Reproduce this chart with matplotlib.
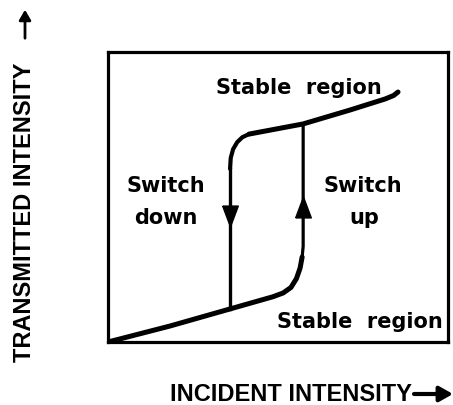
import matplotlib.pyplot as plt
from matplotlib.patches import FancyArrowPatch

# hysteresis loop, axes in 0..100 units
low_x = [0, 18.2, 35.9, 48.5, 51.5, 53.8, 55.4, 56.5, 57.1, 57.4, 57.4]
low_y = [0, 5.5, 11.4, 15.6, 16.9, 18.8, 21.8, 25.5, 29.3, 33.0, 75.2]
up_x = [35.9, 35.9, 36.1, 36.8, 38.0, 39.5, 41.5, 57.4, 71.2, 81.5, 84.0, 85.3]
up_y = [11.4, 59.7, 63.5, 66.5, 68.9, 70.6, 71.7, 75.2, 80.0, 83.8, 85.0, 86.2]
arrow_up = (57.4, 46.6)
arrow_down = (35.9, 43.4)

labels = [
    ('Stable  region', 56.0, 87.8),
    ('Switch', 17.0, 54.0),
    ('down', 17.0, 43.1),
    ('Switch', 75.0, 54.0),
    ('up', 75.4, 43.1),
    ('Stable  region', 74.0, 7.4),
]

fig = plt.figure(figsize=(4.53, 4.06), dpi=100)
ax = fig.add_axes([108 / 453, 63 / 406, 340 / 453, 290 / 406])
ax.set_xlim(0, 100)
ax.set_ylim(0, 100)
ax.set_xticks([])
ax.set_yticks([])
for s in ax.spines.values():
    s.set_linewidth(2.3)

# thick branches
ax.plot(low_x[:9], low_y[:9], color='black', lw=3.6, solid_capstyle='round', solid_joinstyle='round')
ax.plot(up_x[6:], up_y[6:], color='black', lw=3.6, solid_capstyle='round', solid_joinstyle='round')
ax.plot(up_x[1:7], up_y[1:7], color='black', lw=3.0, solid_capstyle='round', solid_joinstyle='round')
# switching lines
ax.plot(low_x[8:], low_y[8:], color='black', lw=2.3)
ax.plot(up_x[:2], up_y[:2], color='black', lw=2.4)

tri_down = [(-0.75, 1), (0.75, 1), (0, -1), (-0.75, 1)]
tri_up = [(-0.75, -1), (0.75, -1), (0, 1), (-0.75, -1)]
ax.plot(*arrow_down, marker=tri_down, ms=15, color='black')
ax.plot(*arrow_up, marker=tri_up, ms=15, color='black')

for t, x, y in labels:
    ax.text(x, y, t, ha='center', va='center', fontsize=15,
            fontweight='bold', family='DejaVu Sans')

fig.text(0.055, 1 - 212 / 406, 'TRANSMITTED INTENSITY', rotation=90, ha='center', va='center',
         fontsize=17, fontweight='bold', family='Liberation Sans')
fig.text(170 / 453, 1 - 395 / 406, 'INCIDENT INTENSITY', ha='left', va='center',
         fontsize=17, fontweight='bold', family='Liberation Sans')

fig.patches.append(FancyArrowPatch(
    (25 / 453, 1 - 42 / 406), (25 / 453, 1 - 8 / 406), transform=fig.transFigure,
    arrowstyle='-|>,head_length=6,head_width=3.5', lw=2, color='black'))
fig.patches.append(FancyArrowPatch(
    (414 / 453, 1 - 395 / 406), (453 / 453, 1 - 395 / 406), transform=fig.transFigure,
    arrowstyle='-|>,head_length=8,head_width=4.5', lw=3, color='black', shrinkA=0, shrinkB=0))

fig.savefig('out.png', dpi=100)
